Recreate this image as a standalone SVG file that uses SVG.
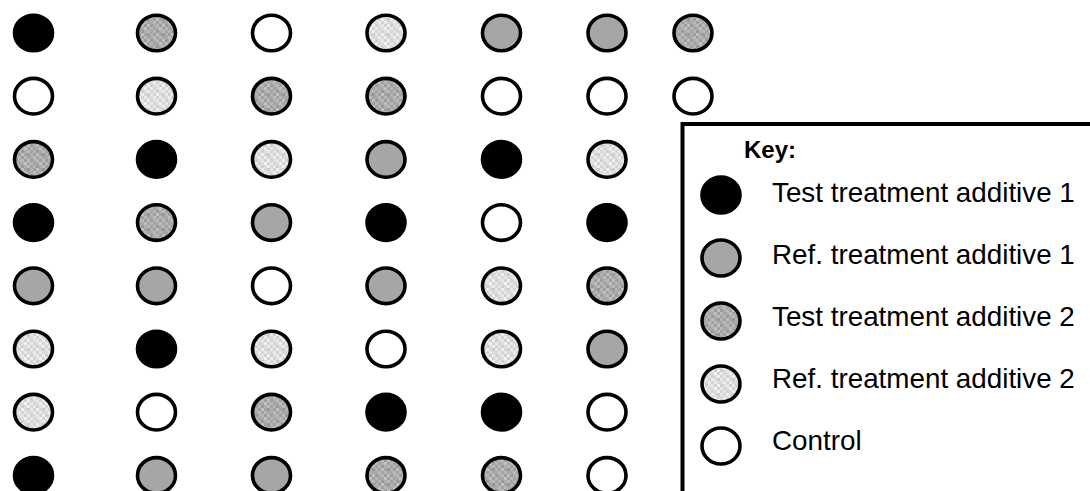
<svg xmlns="http://www.w3.org/2000/svg" width="1090" height="491" viewBox="0 0 1090 491">
<style>
.c{stroke:#000;stroke-width:3.6}
.b{fill:#000}
.g{fill:#a6a6a6}
.w{fill:#fff}
.t2{fill:url(#pt2)}
.r2{fill:url(#pr2)}
.lbl{font-family:"Liberation Sans",Arial,sans-serif;font-size:27.8px;fill:#000}
.key{font-family:"Liberation Sans",Arial,sans-serif;font-size:24px;font-weight:bold;fill:#000}
</style>
<defs>
<pattern id="pt2" patternUnits="userSpaceOnUse" width="15" height="15">
<rect width="15" height="15" fill="#acacac"/>
<rect x="0" y="0" width="3" height="3" fill="#a2a2a2"/><rect x="3" y="0" width="3" height="3" fill="#b6b6b6"/><rect x="6" y="0" width="3" height="3" fill="#999999"/><rect x="9" y="0" width="3" height="3" fill="#adadad"/><rect x="12" y="0" width="3" height="3" fill="#bbbbbb"/>
<rect x="0" y="3" width="3" height="3" fill="#b3b3b3"/><rect x="3" y="3" width="3" height="3" fill="#9e9e9e"/><rect x="6" y="3" width="3" height="3" fill="#c0c0c0"/><rect x="9" y="3" width="3" height="3" fill="#a4a4a4"/><rect x="12" y="3" width="3" height="3" fill="#979797"/>
<rect x="0" y="6" width="3" height="3" fill="#a9a9a9"/><rect x="3" y="6" width="3" height="3" fill="#bcbcbc"/><rect x="6" y="6" width="3" height="3" fill="#a1a1a1"/><rect x="9" y="6" width="3" height="3" fill="#b7b7b7"/><rect x="12" y="6" width="3" height="3" fill="#a6a6a6"/>
<rect x="0" y="9" width="3" height="3" fill="#9b9b9b"/><rect x="3" y="9" width="3" height="3" fill="#afafaf"/><rect x="6" y="9" width="3" height="3" fill="#b9b9b9"/><rect x="9" y="9" width="3" height="3" fill="#9c9c9c"/><rect x="12" y="9" width="3" height="3" fill="#bfbfbf"/>
<rect x="0" y="12" width="3" height="3" fill="#b8b8b8"/><rect x="3" y="12" width="3" height="3" fill="#a3a3a3"/><rect x="6" y="12" width="3" height="3" fill="#ababab"/><rect x="9" y="12" width="3" height="3" fill="#c2c2c2"/><rect x="12" y="12" width="3" height="3" fill="#a0a0a0"/>
</pattern>
<pattern id="pr2" patternUnits="userSpaceOnUse" width="15" height="15">
<rect width="15" height="15" fill="#dddddd"/>
<rect x="0" y="0" width="3" height="3" fill="#d6d6d6"/><rect x="3" y="0" width="3" height="3" fill="#e6e6e6"/><rect x="6" y="0" width="3" height="3" fill="#d0d0d0"/><rect x="9" y="0" width="3" height="3" fill="#dedede"/><rect x="12" y="0" width="3" height="3" fill="#eeeeee"/>
<rect x="0" y="3" width="3" height="3" fill="#e8e8e8"/><rect x="3" y="3" width="3" height="3" fill="#d3d3d3"/><rect x="6" y="3" width="3" height="3" fill="#f0f0f0"/><rect x="9" y="3" width="3" height="3" fill="#d9d9d9"/><rect x="12" y="3" width="3" height="3" fill="#cdcdcd"/>
<rect x="0" y="6" width="3" height="3" fill="#dbdbdb"/><rect x="3" y="6" width="3" height="3" fill="#ececec"/><rect x="6" y="6" width="3" height="3" fill="#d4d4d4"/><rect x="9" y="6" width="3" height="3" fill="#eaeaea"/><rect x="12" y="6" width="3" height="3" fill="#d8d8d8"/>
<rect x="0" y="9" width="3" height="3" fill="#cfcfcf"/><rect x="3" y="9" width="3" height="3" fill="#e0e0e0"/><rect x="6" y="9" width="3" height="3" fill="#e7e7e7"/><rect x="9" y="9" width="3" height="3" fill="#d1d1d1"/><rect x="12" y="9" width="3" height="3" fill="#efefef"/>
<rect x="0" y="12" width="3" height="3" fill="#ebebeb"/><rect x="3" y="12" width="3" height="3" fill="#d5d5d5"/><rect x="6" y="12" width="3" height="3" fill="#dfdfdf"/><rect x="9" y="12" width="3" height="3" fill="#f2f2f2"/><rect x="12" y="12" width="3" height="3" fill="#d2d2d2"/>
</pattern>
</defs>
<rect width="1090" height="491" fill="#fff"/>
<g id="grid">
<g id="r1">
<ellipse class="c b" cx="33.5" cy="33" rx="19" ry="17.8"/>
<ellipse class="c t2" cx="156.5" cy="33" rx="19" ry="17.8"/>
<ellipse class="c w" cx="271.5" cy="33" rx="19" ry="17.8"/>
<ellipse class="c r2" cx="386" cy="33" rx="19" ry="17.8"/>
<ellipse class="c g" cx="501.5" cy="33" rx="19" ry="17.8"/>
<ellipse class="c g" cx="607" cy="33" rx="19" ry="17.8"/>
<ellipse class="c t2" cx="693" cy="33" rx="19" ry="17.8"/>
</g>
<g id="r2">
<ellipse class="c w" cx="33.5" cy="96.2" rx="19" ry="17.8"/>
<ellipse class="c r2" cx="156.5" cy="96.2" rx="19" ry="17.8"/>
<ellipse class="c t2" cx="271.5" cy="96.2" rx="19" ry="17.8"/>
<ellipse class="c t2" cx="386" cy="96.2" rx="19" ry="17.8"/>
<ellipse class="c w" cx="501.5" cy="96.2" rx="19" ry="17.8"/>
<ellipse class="c w" cx="607" cy="96.2" rx="19" ry="17.8"/>
<ellipse class="c w" cx="693" cy="96.2" rx="19" ry="17.8"/>
</g>
<g id="r3">
<ellipse class="c t2" cx="33.5" cy="159.4" rx="19" ry="17.8"/>
<ellipse class="c b" cx="156.5" cy="159.4" rx="19" ry="17.8"/>
<ellipse class="c r2" cx="271.5" cy="159.4" rx="19" ry="17.8"/>
<ellipse class="c g" cx="386" cy="159.4" rx="19" ry="17.8"/>
<ellipse class="c b" cx="501.5" cy="159.4" rx="19" ry="17.8"/>
<ellipse class="c r2" cx="607" cy="159.4" rx="19" ry="17.8"/>
</g>
<g id="r4">
<ellipse class="c b" cx="33.5" cy="222.6" rx="19" ry="17.8"/>
<ellipse class="c t2" cx="156.5" cy="222.6" rx="19" ry="17.8"/>
<ellipse class="c g" cx="271.5" cy="222.6" rx="19" ry="17.8"/>
<ellipse class="c b" cx="386" cy="222.6" rx="19" ry="17.8"/>
<ellipse class="c w" cx="501.5" cy="222.6" rx="19" ry="17.8"/>
<ellipse class="c b" cx="607" cy="222.6" rx="19" ry="17.8"/>
</g>
<g id="r5">
<ellipse class="c g" cx="33.5" cy="285.8" rx="19" ry="17.8"/>
<ellipse class="c g" cx="156.5" cy="285.8" rx="19" ry="17.8"/>
<ellipse class="c w" cx="271.5" cy="285.8" rx="19" ry="17.8"/>
<ellipse class="c g" cx="386" cy="285.8" rx="19" ry="17.8"/>
<ellipse class="c r2" cx="501.5" cy="285.8" rx="19" ry="17.8"/>
<ellipse class="c t2" cx="607" cy="285.8" rx="19" ry="17.8"/>
</g>
<g id="r6">
<ellipse class="c r2" cx="33.5" cy="349" rx="19" ry="17.8"/>
<ellipse class="c b" cx="156.5" cy="349" rx="19" ry="17.8"/>
<ellipse class="c r2" cx="271.5" cy="349" rx="19" ry="17.8"/>
<ellipse class="c w" cx="386" cy="349" rx="19" ry="17.8"/>
<ellipse class="c r2" cx="501.5" cy="349" rx="19" ry="17.8"/>
<ellipse class="c g" cx="607" cy="349" rx="19" ry="17.8"/>
</g>
<g id="r7">
<ellipse class="c r2" cx="33.5" cy="412.2" rx="19" ry="17.8"/>
<ellipse class="c w" cx="156.5" cy="412.2" rx="19" ry="17.8"/>
<ellipse class="c t2" cx="271.5" cy="412.2" rx="19" ry="17.8"/>
<ellipse class="c b" cx="386" cy="412.2" rx="19" ry="17.8"/>
<ellipse class="c b" cx="501.5" cy="412.2" rx="19" ry="17.8"/>
<ellipse class="c w" cx="607" cy="412.2" rx="19" ry="17.8"/>
</g>
<g id="r8">
<ellipse class="c b" cx="33.5" cy="475.4" rx="19" ry="17.8"/>
<ellipse class="c g" cx="156.5" cy="475.4" rx="19" ry="17.8"/>
<ellipse class="c g" cx="271.5" cy="475.4" rx="19" ry="17.8"/>
<ellipse class="c t2" cx="386" cy="475.4" rx="19" ry="17.8"/>
<ellipse class="c t2" cx="501.5" cy="475.4" rx="19" ry="17.8"/>
<ellipse class="c w" cx="607" cy="475.4" rx="19" ry="17.8"/>
</g>
</g>
<g id="legend">
<rect x="682.5" y="124" width="500" height="500" fill="#fff" stroke="#000" stroke-width="4"/>
<text class="key" x="744" y="158">Key:</text>
<g id="key-test1">
<ellipse class="c b" cx="721" cy="195" rx="19" ry="18"/>
<text class="lbl" x="772" y="202">Test treatment additive 1</text>
</g>
<g id="key-ref1">
<ellipse class="c g" cx="721" cy="258" rx="19" ry="18"/>
<text class="lbl" x="772" y="264">Ref. treatment additive 1</text>
</g>
<g id="key-test2">
<ellipse class="c t2" cx="721" cy="321" rx="19" ry="18"/>
<text class="lbl" x="772" y="326">Test treatment additive 2</text>
</g>
<g id="key-ref2">
<ellipse class="c r2" cx="721" cy="384" rx="19" ry="18"/>
<text class="lbl" x="772" y="388">Ref. treatment additive 2</text>
</g>
<g id="key-control">
<ellipse class="c w" cx="721" cy="446" rx="19" ry="18"/>
<text class="lbl" x="772" y="450">Control</text>
</g>
</g>
</svg>
